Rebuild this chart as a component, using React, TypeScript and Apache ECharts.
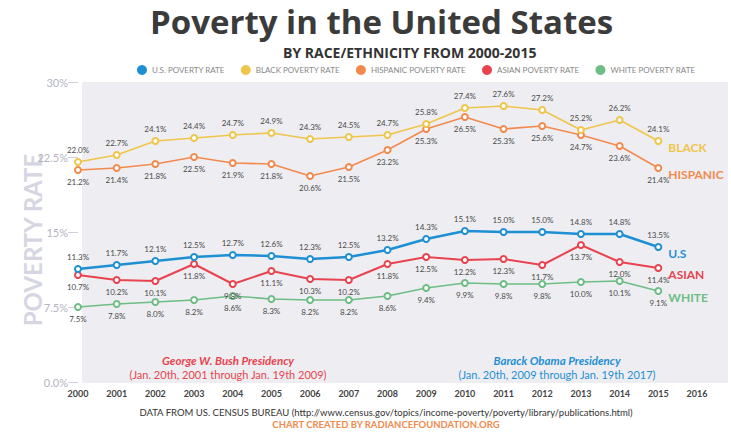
import React, { useEffect, useRef } from "react";
import * as echarts from "echarts";

const years = [2000, 2001, 2002, 2003, 2004, 2005, 2006, 2007, 2008, 2009, 2010, 2011, 2012, 2013, 2014, 2015];
const usRate = [11.3, 11.7, 12.1, 12.5, 12.7, 12.6, 12.3, 12.5, 13.2, 14.3, 15.1, 15.0, 15.0, 14.8, 14.8, 13.5];
const blackRate = [22.0, 22.7, 24.1, 24.4, 24.7, 24.9, 24.3, 24.5, 24.7, 25.8, 27.4, 27.6, 27.2, 25.2, 26.2, 24.1];
const hispanicRate = [21.2, 21.4, 21.8, 22.5, 21.9, 21.8, 20.6, 21.5, 23.2, 25.3, 26.5, 25.3, 25.6, 24.7, 23.6, 21.4];
const asianRate = [10.7, 10.2, 10.1, 11.8, 9.8, 11.1, 10.3, 10.2, 11.8, 12.5, 12.2, 12.3, 11.7, 13.7, 12.0, 11.4];
const whiteRate = [7.5, 7.8, 8.0, 8.2, 8.6, 8.3, 8.2, 8.2, 8.6, 9.4, 9.9, 9.8, 9.8, 10.0, 10.1, 9.1];

const seriesNames = ["U.S. POVERTY RATE", "BLACK POVERTY RATE", "HISPANIC POVERTY RATE", "ASIAN POVERTY RATE", "WHITE POVERTY RATE"];
const endNames = ["U.S", "BLACK", "HISPANIC", "ASIAN", "WHITE"];
const yTickLabels: Record<string, string> = { "0": "0.0%", "7.5": "7.5%", "15": "15%", "22.5": "22.5%", "30": "30%" };

const colors = ["#1f8fd3", "#efc54a", "#f28a4e", "#e8434e", "#6dbd84"];
const FONT = "Lato, 'Open Sans', sans-serif";
const WIDE = "'Open Sans', Lato, sans-serif";

export default function App() {
  const ref = useRef<HTMLDivElement>(null);
  useEffect(() => {
    if (!ref.current) return;
    const chart = echarts.init(ref.current, null, { renderer: "svg" });
    const allData = [usRate, blackRate, hispanicRate, asianRate, whiteRate];
    const labelPos = ["top", "top", "bottom", "bottom", "bottom"];
    const widths = [2.5, 1.6, 1.6, 2, 1.6];
    const series = allData.map((vals, i) => ({
      name: seriesNames[i],
      type: "line",
      data: years.map((y, j) => [y, vals[j]]),
      symbol: "emptyCircle",
      symbolSize: 6,
      itemStyle: { color: colors[i], borderWidth: 1.5 },
      lineStyle: { color: colors[i], width: widths[i] },
      label: {
        show: true,
        position: labelPos[i],
        distance: 4,
        fontSize: 8,
        color: "#4a4a4a",
        fontFamily: FONT,
        formatter: (p: any) => p.value[1].toFixed(1) + "%",
      },
      endLabel: {
        show: true,
        formatter: () => endNames[i],
        color: colors[i],
        fontSize: 12,
        fontWeight: "bold",
        fontFamily: FONT,
        offset: [2, 6],
      },
      z: 5 - i,
    }));
    chart.setOption({
      animation: false,
      textStyle: { fontFamily: FONT },
      legend: {
        top: 60,
        left: 132,
        icon: "circle",
        itemWidth: 10,
        itemHeight: 10,
        itemGap: 16,
        data: seriesNames,
        textStyle: { fontSize: 8, color: "#888", fontFamily: FONT },
      },
      grid: { left: 78, right: 34, top: 82, bottom: 50 },
      xAxis: {
        type: "value",
        min: 2000,
        max: 2016,
        interval: 1,
        axisLine: { show: false },
        axisTick: { show: false },
        splitLine: { show: false },
        axisLabel: { color: "#444", fontSize: 9, fontWeight: "bold", margin: 7, formatter: (v: number) => String(v) },
      },
      yAxis: {
        type: "value",
        min: 0,
        max: 30,
        interval: 7.5,
        axisLine: { show: false },
        axisTick: { show: true, length: 10, lineStyle: { color: "#d0d0d8" } },
        splitLine: { show: false },
        axisLabel: {
          color: "#b4b4c0",
          fontSize: 11,
          margin: 10,
          formatter: (v: number) => yTickLabels[String(v)] ?? String(v),
        },
      },
      graphic: [
        { type: "rect", shape: { x: 82, y: 82, width: 646, height: 301 }, style: { fill: "#eeeef2" }, z: -10, silent: true },
        { type: "text", x: 150, y: 21, style: { text: "Poverty in the United States", fontSize: 33, fontWeight: "bold", fill: "#3b3b3b", verticalAlign: "middle", fontFamily: WIDE } },
        { type: "text", x: 283, y: 52, style: { text: "BY RACE/ETHNICITY FROM 2000-2015", fontSize: 14, fontWeight: "bold", fill: "#333", verticalAlign: "middle", fontFamily: WIDE } },
        { type: "text", x: 32, y: 240, rotation: Math.PI / 2, style: { text: "POVERTY RATE", fontSize: 24, fontWeight: "bold", fill: "#d6d6e2", align: "center", verticalAlign: "middle", fontFamily: FONT } },
        { type: "text", x: 228, y: 360, style: { text: "George W. Bush Presidency", fontSize: 11.5, fontWeight: "bold", fontStyle: "italic", fill: "#e8434e", align: "center", verticalAlign: "middle", fontFamily: FONT } },
        { type: "text", x: 228, y: 374, style: { text: "(Jan. 20th, 2001 through Jan. 19th 2009)", fontSize: 11, fill: "#e8434e", align: "center", verticalAlign: "middle", fontFamily: FONT } },
        { type: "text", x: 557, y: 360, style: { text: "Barack Obama Presidency", fontSize: 11.5, fontWeight: "bold", fontStyle: "italic", fill: "#1f8fd3", align: "center", verticalAlign: "middle", fontFamily: FONT } },
        { type: "text", x: 557, y: 374, style: { text: "(Jan. 20th, 2009 through Jan. 19th 2017)", fontSize: 11, fill: "#1f8fd3", align: "center", verticalAlign: "middle", fontFamily: FONT } },
        { type: "text", x: 386, y: 412, style: { text: "DATA FROM US. CENSUS BUREAU (http://www.census.gov/topics/income-poverty/poverty/library/publications.html)", fontSize: 9.5, fill: "#333", align: "center", verticalAlign: "middle", fontFamily: FONT } },
        { type: "text", x: 386, y: 424, style: { text: "CHART CREATED BY RADIANCEFOUNDATION.ORG", fontSize: 9.5, fontWeight: "bold", fill: "#f28a4e", align: "center", verticalAlign: "middle", fontFamily: FONT } },
      ],
      series,
    });
    return () => chart.dispose();
  }, []);
  return <div ref={ref} style={{ width: 731, height: 432, position: "absolute", left: 0, top: 0, background: "#fff" }} />;
}
